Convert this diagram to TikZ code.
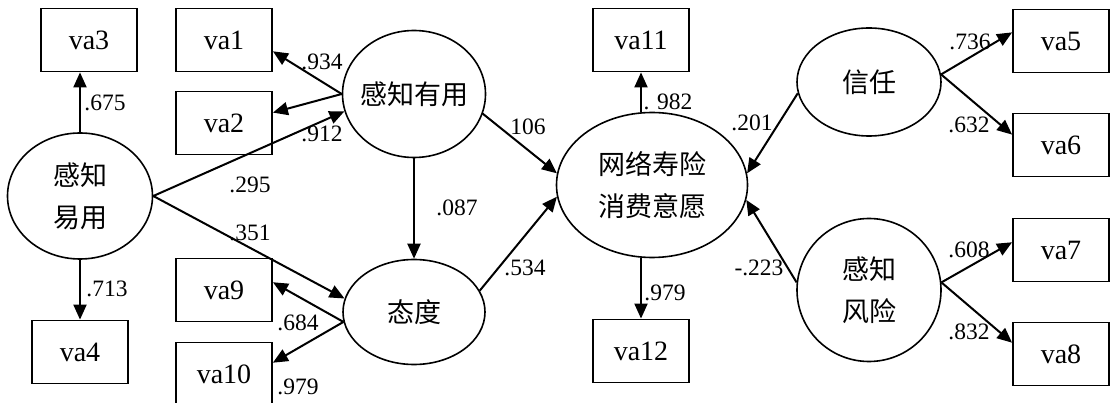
\documentclass[tikz,border=0pt]{standalone}
\usepackage{fontspec}
\setmainfont{Liberation Serif}
\newfontfamily\tnr{Liberation Serif}
\newfontfamily\cjk{Noto Sans CJK SC}
\usetikzlibrary{shapes.geometric,arrows.meta}

\begin{document}
\begin{tikzpicture}[x=1pt,y=-1pt,
        latent/.style={draw,ellipse,line width=1.6pt,inner sep=0pt,align=center,
            font=\cjk\fontsize{27}{42}\selectfont},
        observed/.style={draw,rectangle,line width=1.8pt,minimum width=96pt,minimum height=63pt,
            inner sep=0pt,font=\tnr\fontsize{28}{34}\selectfont},
        load/.style={draw,line width=2pt,-{Triangle[length=15pt,width=13pt]}},
        coef/.style={inner sep=0pt,font=\tnr\fontsize{23.5}{28}\selectfont}]
    \useasboundingbox (0,0) rectangle (1111,403);

    % latent variables
    \node[latent,minimum width=145pt,minimum height=126pt] (peu) at (80,196) {感知\\易用};
    \node[latent,minimum width=143pt,minimum height=127pt] (pu) at (414,94) {\makebox[0pt]{感知有用}};
    \node[latent,minimum width=142pt,minimum height=105pt] (att) at (414,312) {态度};
    \node[latent,minimum width=191pt,minimum height=145pt] (wi) at (652,185) {网络寿险\\消费意愿};
    \node[latent,minimum width=144pt,minimum height=108pt] (trust) at (869,82) {信任};
    \node[latent,minimum width=144pt,minimum height=143pt] (risk) at (869,290) {感知\\风险};

    % observed items
    \node[observed] (va3) at (89,40) {va3};
    \node[observed] (va1) at (224,40) {va1};
    \node[observed] (va2) at (224,123) {va2};
    \node[observed] (va4) at (80,352) {va4};
    \node[observed] (va9) at (224,290) {va9};
    \node[observed] (va10) at (224,374) {va10};
    \node[observed] (va11) at (641,40) {va11};
    \node[observed] (va12) at (641,351) {va12};
    \node[observed] (va5) at (1061,41) {va5};
    \node[observed] (va6) at (1061,145) {va6};
    \node[observed] (va7) at (1061,250) {va7};
    \node[observed] (va8) at (1061,354) {va8};

    % loadings and paths
    \draw[load] (peu.north) -- (peu.north |- va3.south);
    \draw[load] (peu.south) -- (va4.north);
    \draw[load] (pu.west) -- (va1.-13);
    \draw[load] (pu.west) -- (va2.12);
    \draw[load] (peu.east) -- (pu.194);
    \draw[load] (peu.east) -- (att.169);
    \draw[load] (pu.south) -- (att.north);
    \draw[load] (att.188) -- (va9.9);
    \draw[load] (att.188) -- (va10.13);
    \draw[load] (att.18) -- (wi.187);
    \draw[load] (pu.-16) -- (wi.173);
    \draw[load] (va11.south |- wi.north) -- (va11.south);
    \draw[load] (va12.north |- wi.south) -- (va12.north);
    \draw[load] (trust.189) -- (wi.7);
    \draw[load] (risk.174) -- (wi.-9);
    \draw[load] (trust.6) -- (va5.170);
    \draw[load] (trust.6) -- (va6.168);
    \draw[load] (risk.6) -- (va7.171);
    \draw[load] (risk.6) -- (va8.167);

    % coefficients
    \node[coef] (c675) at (105,103) {.675};
    \node[coef] (c713) at (107,289) {.713};
    \node[coef] (c934) at (322,62) {.934};
    \node[coef] (c912) at (322,134) {.912};
    \node[coef] (c295) at (250,185) {.295};
    \node[coef] (c351) at (250,233) {.351};
    \node[coef] (c087) at (457,208) {.087};
    \node[coef] (c684) at (298,323) {.684};
    \node[coef] (c979a) at (298,387) {.979};
    \node[coef] (c534) at (525,268) {.534};
    \node[coef] (c106) at (528,127) {106};
    \node[coef] (c982) at (668,102) {. 982};
    \node[coef] (c979b) at (665,293) {.979};
    \node[coef] (c201) at (752,123) {.201};
    \node[coef] (c223) at (759,268) {-.223};
    \node[coef] (c736) at (970,42) {.736};
    \node[coef] (c632) at (969,125) {.632};
    \node[coef] (c608) at (969,250) {.608};
    \node[coef] (c832) at (969,332) {.832};
\end{tikzpicture}
\end{document}
